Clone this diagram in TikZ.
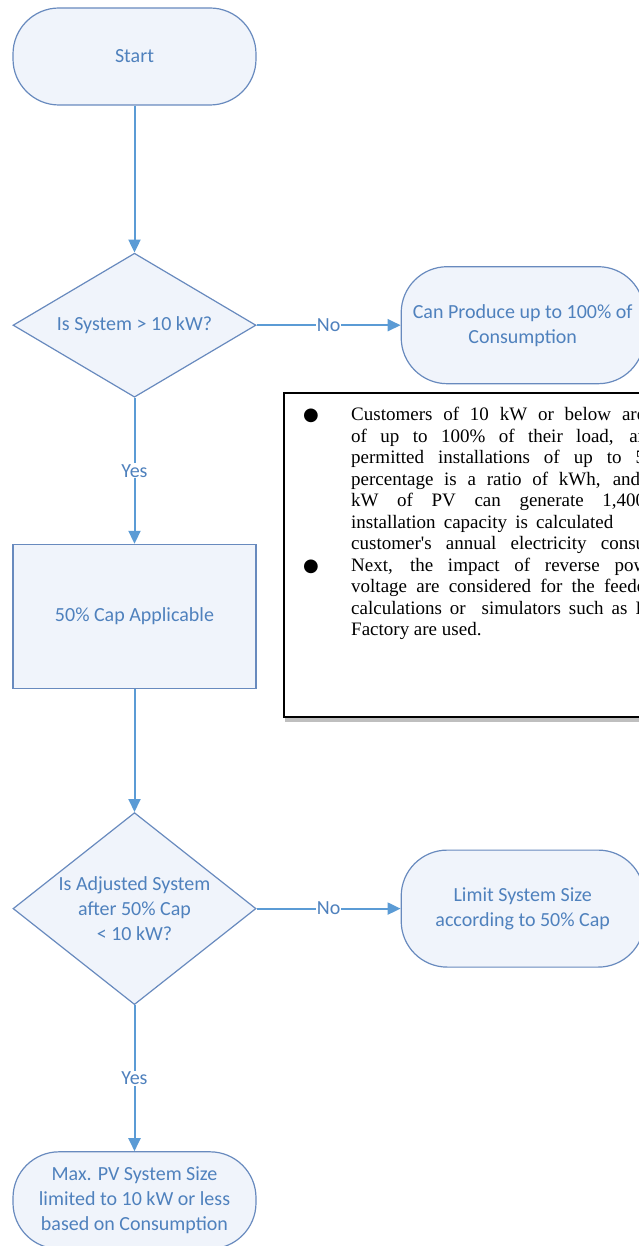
\documentclass[tikz,border=0pt]{standalone}
\usepackage{fontspec}
\setmainfont{Liberation Serif}
\newfontfamily\notefont{Liberation Serif}
\newfontfamily\flowfont{Carlito}
\newfontfamily\symfont{DejaVu Sans}
\usetikzlibrary{arrows.meta, positioning, shapes.geometric, shadows}

\definecolor{flowline}{RGB}{91,155,213}
\definecolor{flowborder}{RGB}{104,138,190}
\definecolor{flowtext}{RGB}{79,129,189}
\definecolor{flowfill}{RGB}{240,244,251}

\newcommand{\bul}{\makebox[48pt][l]{\fontsize{18}{18}\symfont ●}}
\newcommand{\nobul}{\hspace*{48pt}}
\newcommand{\jl}[2]{\makebox[#1][s]{#2}}

\begin{document}
\begin{tikzpicture}[
    x=1pt, y=-1pt,
    node distance=146pt and 144pt,
    every node/.style={font=\flowfont\fontsize{20}{25}\selectfont, text=flowtext},
    term/.style={draw=flowborder, line width=1.2pt, fill=flowfill, rounded corners=46pt, minimum width=243pt, minimum height=97pt, align=center, inner sep=0pt},
    proc/.style={draw=flowborder, line width=1.2pt, fill=flowfill, minimum width=243pt, minimum height=144pt, align=center},
    decision/.style={draw=flowborder, line width=1.2pt, fill=flowfill, diamond, minimum width=243pt, minimum height=144pt, aspect=1.7, inner sep=0pt, align=center},
    flow/.style={draw=flowline, line width=2pt, -{Triangle[length=13pt,width=12pt]}},
    answer/.style={fill=white, inner sep=1pt},
    notebox/.style={draw=black, line width=1.5pt, fill=white, minimum width=420pt, minimum height=324pt, inner sep=0pt, drop shadow={shadow xshift=1pt, shadow yshift=-5pt, opacity=0.5}},
    notetext/.style={font=\notefont\fontsize{19}{21.5}\selectfont, text=black, align=left, inner sep=0pt}
  ]
    \useasboundingbox (0,0) rectangle (639,1246);
    \clip (0,0) rectangle (639,1246);

    \node[term] (start) at (134.5,56.5) {Start};
    \node[decision, below=147pt of start] (sizeq) {Is System > 10 kW?};
    \node[term, minimum height=117pt, right=of sizeq] (full) {Can Produce up to 100\% of\\Consumption};
    \node[proc, below=of sizeq] (cap) {50\% Cap Applicable};
    \node[decision, below=123pt of cap, minimum height=192pt,
          label={[align=center]center:Is Adjusted System\\after 50\% Cap\\< 10 kW?}] (adjq) {};
    \node[term, minimum height=117pt, right=of adjq] (limit) {Limit System Size\\according to 50\% Cap};
    \node[term, below=of adjq] (maxpv) {Max. PV System Size\\limited to 10 kW or less\\based on Consumption};

    \draw[flow] (start) -- (sizeq);
    \draw[flow] (sizeq) -- node[answer] {No} (full);
    \draw[flow] (sizeq) -- node[answer] {Yes} (cap);
    \draw[flow] (cap) -- (adjq);
    \draw[flow] (adjq) -- node[answer] {No} (limit);
    \draw[flow] (adjq) -- node[answer] {Yes} (maxpv);

    % note box
    \node[notebox, anchor=north west] (note) at (283,392) {};
    \node[notetext, anchor=north west] (notetxt) at (303,407) {%
      \bul\jl{294pt}{Customers of 10 kW or below are}\\
      \nobul\jl{296pt}{of up to 100\% of their load, an}\\
      \nobul\jl{294pt}{permitted installations of up to 5}\\
      \nobul\jl{289pt}{percentage is a ratio of kWh, and}\\
      \nobul\jl{294pt}{kW of PV can generate 1,400}\\
      \nobul\jl{262pt}{installation capacity is calculated}\\
      \nobul\jl{294pt}{customer's annual electricity consu}\\
      \bul\jl{296pt}{Next, the impact of reverse pow}\\
      \nobul\jl{294pt}{voltage are considered for the feede}\\
      \nobul\jl{298pt}{calculations or\ \ simulators such as D}\\
      \nobul Factory are used.};
\end{tikzpicture}
\end{document}
